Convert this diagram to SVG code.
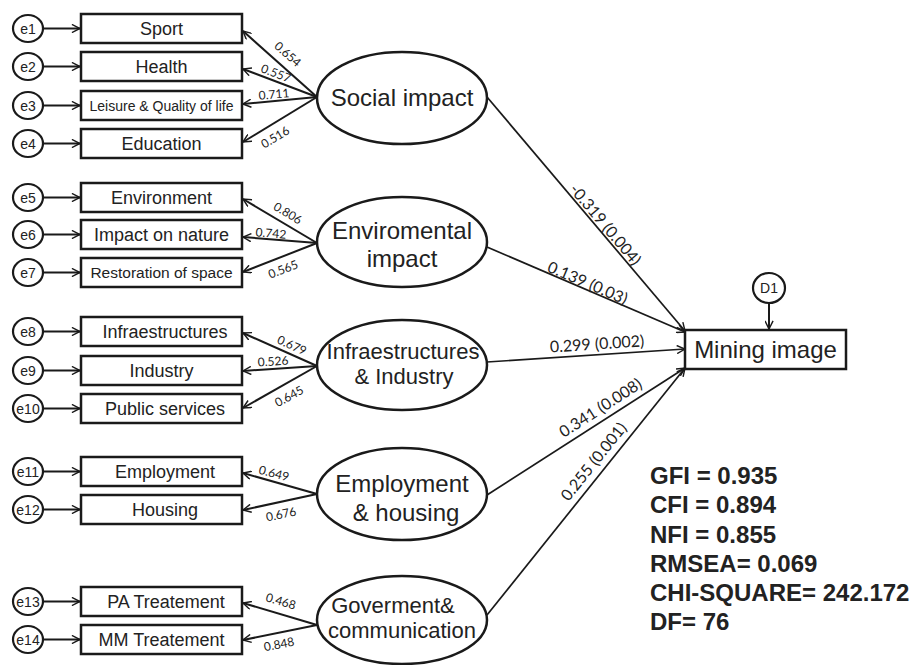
<svg xmlns="http://www.w3.org/2000/svg" width="911" height="665" viewBox="0 0 911 665">
<defs>
<marker id="arr" viewBox="0 0 10 10" refX="9.5" refY="5" markerWidth="9" markerHeight="9" markerUnits="userSpaceOnUse" orient="auto">
<path d="M0.5,0.5 L9.5,5 L0.5,9.5" fill="none" stroke="#1a1a1a" stroke-width="1.6"/>
</marker>
</defs>
<style>
.box{fill:#fff;stroke:#1a1a1a;stroke-width:2.5}
.err{fill:#fff;stroke:#1a1a1a;stroke-width:2.2}
.lat{fill:#fff;stroke:#1a1a1a;stroke-width:2.5}
.ln{stroke:#1a1a1a;stroke-width:2;fill:none;marker-end:url(#arr)}
.sp{stroke:#1a1a1a;stroke-width:1.7;fill:none;marker-end:url(#arr)}
.t{font-family:"Liberation Sans",Arial,sans-serif;fill:#222;text-anchor:middle}
.bt{font-size:18px}
.et{font-size:14px}
.lt{font-size:24px}
.ld{font-family:Lato,"Open Sans",sans-serif;font-size:12px;fill:#222;text-anchor:middle;dominant-baseline:central}
.pl{font-family:Lato,"Open Sans",sans-serif;font-size:16px;fill:#222;text-anchor:middle;dominant-baseline:central}
.fit{font-family:"Liberation Sans",Arial,sans-serif;font-size:24px;font-weight:bold;fill:#222}
</style>

<g id="connectors">
<line class="ln" x1="43" y1="28.5" x2="80" y2="28.5"/>
<line class="ln" x1="43" y1="66.5" x2="80" y2="66.5"/>
<line class="ln" x1="43" y1="105.5" x2="80" y2="105.5"/>
<line class="ln" x1="43" y1="143.5" x2="80" y2="143.5"/>
<line class="ln" x1="43" y1="197.5" x2="80" y2="197.5"/>
<line class="ln" x1="43" y1="234.5" x2="80" y2="234.5"/>
<line class="ln" x1="43" y1="272.5" x2="80" y2="272.5"/>
<line class="ln" x1="43" y1="331.5" x2="80" y2="331.5"/>
<line class="ln" x1="43" y1="370.5" x2="80" y2="370.5"/>
<line class="ln" x1="43" y1="408.5" x2="80" y2="408.5"/>
<line class="ln" x1="43" y1="471.5" x2="80" y2="471.5"/>
<line class="ln" x1="43" y1="509.5" x2="80" y2="509.5"/>
<line class="ln" x1="43" y1="601.5" x2="80" y2="601.5"/>
<line class="ln" x1="43" y1="639.5" x2="80" y2="639.5"/>
<line class="ln" x1="317" y1="97" x2="243" y2="31"/>
<line class="ln" x1="317" y1="97" x2="243" y2="69"/>
<line class="ln" x1="317" y1="97" x2="243" y2="104"/>
<line class="ln" x1="317" y1="97" x2="243" y2="142"/>
<line class="ln" x1="317" y1="243" x2="243" y2="199"/>
<line class="ln" x1="317" y1="243" x2="243" y2="237"/>
<line class="ln" x1="317" y1="243" x2="243" y2="272"/>
<line class="ln" x1="317" y1="366" x2="243" y2="333"/>
<line class="ln" x1="317" y1="366" x2="243" y2="371"/>
<line class="ln" x1="317" y1="366" x2="243" y2="408"/>
<line class="ln" x1="317" y1="494" x2="243" y2="473"/>
<line class="ln" x1="317" y1="494" x2="243" y2="510"/>
<line class="ln" x1="317" y1="625" x2="243" y2="603"/>
<line class="ln" x1="317" y1="625" x2="243" y2="640"/>
<line class="sp" x1="487" y1="97" x2="685" y2="331"/>
<line class="sp" x1="487" y1="247" x2="685" y2="332"/>
<line class="sp" x1="487" y1="362" x2="685" y2="349"/>
<line class="sp" x1="487" y1="495" x2="685" y2="368"/>
<line class="sp" x1="487" y1="615" x2="685" y2="368"/>
<line class="ln" x1="769" y1="302" x2="769" y2="329"/>
<text class="ld" transform="translate(288,54) rotate(41)">0.654</text>
<text class="ld" transform="translate(276,73) rotate(21)">0.557</text>
<text class="ld" transform="translate(274,94) rotate(-5)">0.711</text>
<text class="ld" transform="translate(275,137) rotate(-31)">0.516</text>
<text class="ld" transform="translate(288,213) rotate(31)">0.806</text>
<text class="ld" transform="translate(271,233) rotate(5)">0.742</text>
<text class="ld" transform="translate(283,269) rotate(-21)">0.565</text>
<text class="ld" transform="translate(292,345) rotate(24)">0.679</text>
<text class="ld" transform="translate(273,361) rotate(-4)">0.526</text>
<text class="ld" transform="translate(289,396) rotate(-29)">0.645</text>
<text class="ld" transform="translate(274,473) rotate(15)">0.649</text>
<text class="ld" transform="translate(281,514) rotate(-12)">0.676</text>
<text class="ld" transform="translate(281,601) rotate(16)">0.468</text>
<text class="ld" transform="translate(279,644) rotate(-11)">0.848</text>
<text class="pl" transform="translate(606,224) rotate(49.8)">-0.319 (0.004)</text>
<text class="pl" transform="translate(588,282) rotate(23.2)">0.139 (0.03)</text>
<text class="pl" transform="translate(597,343) rotate(-3.8)">0.299 (0.002)</text>
<text class="pl" transform="translate(600,407) rotate(-32.7)">0.341 (0.008)</text>
<text class="pl" transform="translate(593,461) rotate(-51.3)">0.255 (0.001)</text>
</g>

<g id="e1"><ellipse class="err" cx="28" cy="28.5" rx="15" ry="13.5"/><text class="t et" x="28" y="33.5">e1</text></g>
<g id="e2"><ellipse class="err" cx="28" cy="66.5" rx="15" ry="13.5"/><text class="t et" x="28" y="71.5">e2</text></g>
<g id="e3"><ellipse class="err" cx="28" cy="105.5" rx="15" ry="13.5"/><text class="t et" x="28" y="110.5">e3</text></g>
<g id="e4"><ellipse class="err" cx="28" cy="143.5" rx="15" ry="13.5"/><text class="t et" x="28" y="148.5">e4</text></g>
<g id="e5"><ellipse class="err" cx="28" cy="197.5" rx="15" ry="13.5"/><text class="t et" x="28" y="202.5">e5</text></g>
<g id="e6"><ellipse class="err" cx="28" cy="234.5" rx="15" ry="13.5"/><text class="t et" x="28" y="239.5">e6</text></g>
<g id="e7"><ellipse class="err" cx="28" cy="272.5" rx="15" ry="13.5"/><text class="t et" x="28" y="277.5">e7</text></g>
<g id="e8"><ellipse class="err" cx="28" cy="331.5" rx="15" ry="13.5"/><text class="t et" x="28" y="336.5">e8</text></g>
<g id="e9"><ellipse class="err" cx="28" cy="370.5" rx="15" ry="13.5"/><text class="t et" x="28" y="375.5">e9</text></g>
<g id="e10"><ellipse class="err" cx="28" cy="408.5" rx="15" ry="13.5"/><text class="t et" x="28" y="413.5">e10</text></g>
<g id="e11"><ellipse class="err" cx="28" cy="471.5" rx="15" ry="13.5"/><text class="t et" x="28" y="476.5">e11</text></g>
<g id="e12"><ellipse class="err" cx="28" cy="509.5" rx="15" ry="13.5"/><text class="t et" x="28" y="514.5">e12</text></g>
<g id="e13"><ellipse class="err" cx="28" cy="601.5" rx="15" ry="13.5"/><text class="t et" x="28" y="606.5">e13</text></g>
<g id="e14"><ellipse class="err" cx="28" cy="639.5" rx="15" ry="13.5"/><text class="t et" x="28" y="644.5">e14</text></g>

<g id="sport"><rect class="box" x="81" y="14" width="161" height="29"/><text class="t bt" x="161.5" y="35">Sport</text></g>
<g id="health"><rect class="box" x="81" y="52" width="161" height="29"/><text class="t bt" x="161.5" y="73">Health</text></g>
<g id="leisure"><rect class="box" x="81" y="91" width="161" height="29"/><text class="t" x="161.5" y="110.5" font-size="14">Leisure &amp; Quality of life</text></g>
<g id="education"><rect class="box" x="81" y="129" width="161" height="29"/><text class="t bt" x="161.5" y="150">Education</text></g>
<g id="environment"><rect class="box" x="81" y="183" width="161" height="29"/><text class="t bt" x="161.5" y="204">Environment</text></g>
<g id="impact-nature"><rect class="box" x="81" y="220" width="161" height="29"/><text class="t bt" x="161.5" y="241">Impact on nature</text></g>
<g id="restoration"><rect class="box" x="81" y="258" width="161" height="29"/><text class="t" x="161.5" y="278" font-size="15.5">Restoration of space</text></g>
<g id="infra"><rect class="box" x="81" y="317" width="161" height="29"/><text class="t bt" x="165" y="338">Infraestructures</text></g>
<g id="industry"><rect class="box" x="81" y="356" width="161" height="29"/><text class="t bt" x="161.5" y="377">Industry</text></g>
<g id="public"><rect class="box" x="81" y="394" width="161" height="29"/><text class="t bt" x="165" y="415">Public services</text></g>
<g id="employment"><rect class="box" x="81" y="457" width="161" height="29"/><text class="t bt" x="165" y="478">Employment</text></g>
<g id="housing"><rect class="box" x="81" y="495" width="161" height="29"/><text class="t bt" x="165" y="516">Housing</text></g>
<g id="pa"><rect class="box" x="81" y="587" width="161" height="29"/><text class="t bt" x="166" y="608">PA Treatement</text></g>
<g id="mm"><rect class="box" x="81" y="625" width="161" height="29"/><text class="t bt" x="161.5" y="646">MM Treatement</text></g>

<g id="social"><ellipse class="lat" cx="402" cy="98" rx="85" ry="46"/><text class="t lt" x="402" y="106">Social impact</text></g>
<g id="enviro"><ellipse class="lat" cx="402" cy="242" rx="85" ry="45"/><text class="t lt" x="402" y="239">Enviromental</text><text class="t lt" x="402" y="267">impact</text></g>
<g id="infra-ind"><ellipse class="lat" cx="402" cy="365" rx="85" ry="45"/><text class="t" x="403" y="359" font-size="22">Infraestructures</text><text class="t" x="404" y="384" font-size="22">&amp; Industry</text></g>
<g id="emp-hous"><ellipse class="lat" cx="402" cy="494" rx="85" ry="46"/><text class="t lt" x="402" y="492">Employment</text><text class="t lt" x="406" y="521">&amp; housing</text></g>
<g id="gov"><ellipse class="lat" cx="402" cy="620" rx="85" ry="44"/><text class="t" x="393" y="613" font-size="22">Goverment&amp;</text><text class="t" x="402" y="638" font-size="22">communication</text></g>

<g id="d1"><ellipse class="err" cx="769" cy="288" rx="16" ry="15"/><text class="t et" x="769" y="293">D1</text></g>
<g id="mining"><rect class="box" x="685" y="330" width="161" height="39"/><text class="t lt" x="765.5" y="358">Mining image</text></g>

<g id="fit">
<text class="fit" x="650" y="484">GFI = 0.935</text>
<text class="fit" x="650" y="513">CFI = 0.894</text>
<text class="fit" x="650" y="543">NFI = 0.855</text>
<text class="fit" x="650" y="572">RMSEA= 0.069</text>
<text class="fit" x="650" y="601">CHI-SQUARE= 242.172</text>
<text class="fit" x="650" y="630">DF= 76</text>
</g>
</svg>
